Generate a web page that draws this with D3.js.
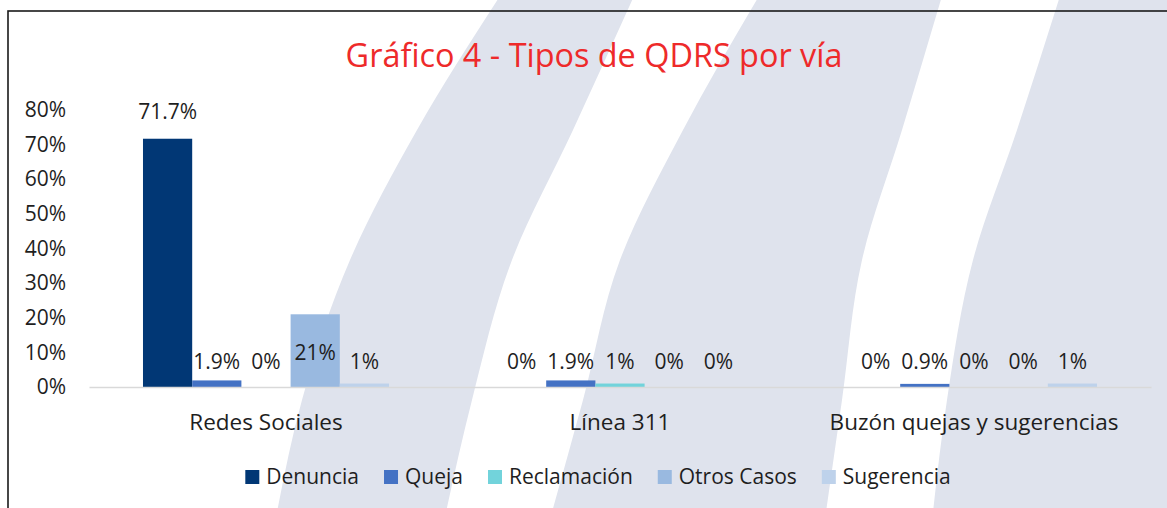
<!DOCTYPE html>
<html>
<head>
<meta charset="utf-8">
<script src="https://cdn.jsdelivr.net/npm/d3@7"></script>
<style>
    body { margin: 0; background: #fff; }
    svg { display: block; font-family: "Open Sans", sans-serif; }
</style>
</head>
<body>
<svg width="1167" height="508"></svg>
<script>
var svg = d3.select("svg");
var width = +svg.attr("width");
var height = +svg.attr("height");

var title = "Gráfico 4 - Tipos de QDRS por vía";
var categories = ["Redes Sociales", "Línea 311", "Buzón quejas y sugerencias"];
var series = ["Denuncia", "Queja", "Reclamación", "Otros Casos", "Sugerencia"];
var colors = ["#013775", "#4472c4", "#72d3db", "#99b9e0", "#bed2eb"];

// one array per series, in category order
var denuncia = [71.7, 0, 0];
var queja = [1.9, 1.9, 0.9];
var reclamacion = [0, 1, 0];
var otrosCasos = [21, 0, 0];
var sugerencia = [1, 0, 1];

// labels as shown on the chart
var denunciaLbl = ["71.7%", "0%", "0%"];
var quejaLbl = ["1.9%", "1.9%", "0.9%"];
var reclamacionLbl = ["0%", "1%", "0%"];
var otrosCasosLbl = ["21%", "0%", "0%"];
var sugerenciaLbl = ["1%", "0%", "1%"];

var yTicks = [0, 10, 20, 30, 40, 50, 60, 70, 80];

var values = [denuncia, queja, reclamacion, otrosCasos, sugerencia];
var labels = [denunciaLbl, quejaLbl, reclamacionLbl, otrosCasosLbl, sugerenciaLbl];

var rows = [];
categories.forEach(function(c, ci) {
    series.forEach(function(s, si) {
        rows.push({cat: c, series: s, value: values[si][ci], label: labels[si][ci], color: colors[si]});
    });
});

/* background watermark: three curved bands, edges sampled top to bottom */
var bandY = [-4, 130, 260, 400, 512];
var bands = [
    {x0: [500, 417, 350, 302, 277], x1: [634, 573, 512, 472, 446]},
    {x0: [759, 683, 620, 583, 552], x1: [942, 902, 862, 842, 826]},
    {x0: [1060, 1017, 973, 947, 933], x1: [1170, 1170, 1170, 1170, 1170]}
];

var bandArea = d3.area()
    .y(function(d) { return d.y; })
    .x0(function(d) { return d.x0; })
    .x1(function(d) { return d.x1; })
    .curve(d3.curveMonotoneY);

svg.append("g")
    .selectAll("path")
    .data(bands)
    .enter()
    .append("path")
    .attr("d", function(b) {
        return bandArea(bandY.map(function(yy, i) {
            return {y: yy, x0: b.x0[i], x1: b.x1[i]};
        }));
    })
    .attr("fill", "#dfe3ed");

// chart frame (runs off the right and bottom)
svg.append("rect")
    .attr("x", 8)
    .attr("y", 11)
    .attr("width", width + 20)
    .attr("height", height + 20)
    .attr("fill", "none")
    .attr("stroke", "#1a1a1a")
    .attr("stroke-width", 1.6);

var x0 = d3.scaleBand()
    .domain(categories)
    .range([89, 1151])
    .paddingInner(0.305)
    .paddingOuter(0.1525);

var x1 = d3.scaleBand()
    .domain(series)
    .range([0, x0.bandwidth()]);

var y = d3.scaleLinear()
    .domain([0, 80])
    .range([387, 110]);

svg.append("text")
    .attr("x", 594)
    .attr("y", 67)
    .attr("text-anchor", "middle")
    .attr("font-size", 32.4)
    .attr("fill", "#ee2a2a")
    .text(title);

// y axis, labels only
var yAxis = svg.append("g")
    .attr("transform", "translate(66,0)")
    .call(d3.axisLeft(y).tickValues(yTicks).tickSize(0).tickPadding(0)
        .tickFormat(function(d) { return d + "%"; }));
yAxis.select(".domain").remove();
yAxis.selectAll("text")
    .attr("font-size", 21)
    .attr("font-family", "Open Sans")
    .attr("fill", "#1e1e1e");

var groups = svg.append("g")
    .selectAll("g")
    .data(rows)
    .enter()
    .append("g")
    .attr("transform", function(d) {
        return "translate(" + (x0(d.cat) + x1(d.series)) + ",0)";
    });

groups.append("rect")
    .attr("x", 0)
    .attr("y", function(d) { return y(d.value); })
    .attr("width", x1.bandwidth())
    .attr("height", function(d) { return y(0) - y(d.value); })
    .attr("fill", function(d) { return d.color; });

groups.append("text")
    .attr("x", x1.bandwidth() / 2)
    .attr("y", function(d) {
        if (d.value > 50) return y(d.value) - 20;
        if (d.value > 10) return y(0) - 27;
        return y(0) - 18;
    })
    .attr("text-anchor", "middle")
    .attr("font-size", 21)
    .attr("fill", "#1e1e1e")
    .text(function(d) { return d.label; });

// x axis line + category names
var xAxis = svg.append("g")
    .attr("transform", "translate(0," + y(0) + ")")
    .call(d3.axisBottom(x0).tickSize(0).tickPadding(0));
xAxis.select(".domain")
    .attr("stroke", "#d9d9d9")
    .attr("stroke-width", 1.6);
xAxis.selectAll("text")
    .attr("dy", 0)
    .attr("y", 43)
    .attr("font-size", 22.5)
    .attr("font-family", "Open Sans")
    .attr("fill", "#1e1e1e");

// legend, centred under the chart
var legend = svg.append("g");
var item = legend.selectAll("g")
    .data(series)
    .enter()
    .append("g");

item.append("rect")
    .attr("width", 14)
    .attr("height", 14)
    .attr("y", 470)
    .attr("fill", function(d, i) { return colors[i]; });

item.append("text")
    .attr("x", 21)
    .attr("y", 484)
    .attr("font-size", 21)
    .attr("fill", "#1e1e1e")
    .text(function(d) { return d; });

var gap = 25;
var pos = 0;
item.each(function() {
    var w = this.querySelector("text").getComputedTextLength();
    d3.select(this).attr("transform", "translate(" + pos + ",0)");
    pos += 21 + w + gap;
});
legend.attr("transform", "translate(" + (598 - (pos - gap) / 2) + ",0)");
</script>
</body>
</html>
